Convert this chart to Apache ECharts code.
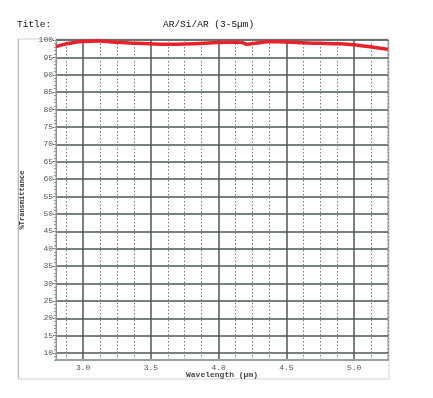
<!DOCTYPE html>
<html>
<head>
<meta charset="utf-8">
<style>
  html, body { margin: 0; padding: 0; background: #fff; }
  #chart { width: 433px; height: 398px; }
</style>
<script src="https://cdn.jsdelivr.net/npm/echarts@6/dist/echarts.min.js"></script>
</head>
<body>
<div id="chart"></div>
<script>
// 数据
const wavelength = [2.80, 2.88, 3.00, 3.12, 3.24, 3.37, 3.50, 3.62, 3.75, 3.87, 3.99, 4.11, 4.17, 4.21, 4.26, 4.31, 4.36, 4.44, 4.61, 4.75, 4.85, 4.97, 5.10, 5.25];
const transmittance = [98.1, 98.9, 99.6, 99.7, 99.35, 99.1, 98.9, 98.8, 98.85, 99.0, 99.3, 99.35, 99.25, 98.8, 99.0, 99.3, 99.5, 99.5, 99.2, 99.05, 98.95, 98.7, 98.1, 97.3];
const xMajorTicks = [3.0, 3.5, 4.0, 4.5, 5.0];
const xMinorTicks = [2.875, 3.125, 3.25, 3.375, 3.625, 3.75, 3.875, 4.125, 4.25, 4.375, 4.625, 4.75, 4.875, 5.125, 5.25];
const yTicks = [10, 15, 20, 25, 30, 35, 40, 45, 50, 55, 60, 65, 70, 75, 80, 85, 90, 95, 100];
const yMinorTicks = [];
for (let v = 8; v <= 100; v++) yMinorTicks.push(v);

const mono = '"Liberation Mono", "DejaVu Sans Mono", monospace';
const gridColor = '#4a5753';

const chart = echarts.init(document.getElementById('chart'));

const option = {
  animation: false,
  title: [
    { text: 'Title:', left: 12, top: 14, textStyle: { fontFamily: mono, fontSize: 9.5, fontWeight: 'normal', color: '#111' } },
    { text: 'AR/Si/AR (3-5μm)', left: 158, top: 14, textStyle: { fontFamily: mono, fontSize: 9.5, fontWeight: 'normal', color: '#111' } },
  ],
  graphic: [
    {
      type: 'rect',
      shape: { x: 18, y: 39, width: 371, height: 340 },
      style: { fill: 'none', stroke: '#d6d2c6', lineWidth: 1 },
      z: -1,
    },
    {
      type: 'line',
      shape: { x1: 18.5, y1: 39, x2: 18.5, y2: 379 },
      style: { stroke: '#b9bab2', lineWidth: 1 },
    },
  ],
  grid: {
    left: 56,
    right: 45,
    top: 40,
    bottom: 38,
    show: true,
    borderColor: '#8a9692',
    borderWidth: 1,
    backgroundColor: '#fff',
  },
  xAxis: [
    {
      type: 'value',
      min: 2.8,
      max: 5.25,
      name: 'Wavelength (μm)',
      nameLocation: 'middle',
      nameMoveOverlap: false,
      nameGap: 11,
      nameTextStyle: { fontFamily: mono, fontSize: 8, fontWeight: 'bold', color: '#444' },
      axisLine: { show: true, lineStyle: { color: '#9aa29f', width: 2 } },
      axisTick: { show: false, customValues: xMajorTicks },
      axisLabel: {
        customValues: xMajorTicks,
        fontFamily: mono,
        fontSize: 8,
        color: '#555',
        margin: 4,
        formatter: (v) => v.toFixed(1),
      },
      splitLine: { show: true, lineStyle: { color: gridColor, width: 1.5 } },
    },
    {
      type: 'value',
      min: 2.8,
      max: 5.25,
      position: 'top',
      axisLine: { show: false },
      axisTick: { show: false, customValues: xMinorTicks },
      axisLabel: { show: false, customValues: xMinorTicks },
      splitLine: { show: true, lineStyle: { color: '#7a7a7a', width: 1, type: [1.5, 2] } },
    },
  ],
  yAxis: [
    {
      type: 'value',
      min: 8,
      max: 100,
      name: '%Transmittance',
      nameLocation: 'middle',
      nameMoveOverlap: false,
      nameGap: 30,
      nameTextStyle: { fontFamily: mono, fontSize: 7, fontWeight: 'bold', color: '#333' },
      axisLine: { show: true, lineStyle: { color: '#8a9692' } },
      axisTick: { show: true, length: 3, customValues: yTicks, lineStyle: { color: '#666' } },
      axisLabel: {
        customValues: yTicks,
        fontFamily: mono,
        fontSize: 8,
        color: '#555',
        margin: 3,
      },
      splitLine: { show: true, lineStyle: { color: gridColor, width: 1.5 } },
    },
    {
      type: 'value',
      min: 8,
      max: 100,
      position: 'left',
      axisLine: { show: false },
      axisTick: { show: true, length: 2, customValues: yMinorTicks, lineStyle: { color: '#999' } },
      axisLabel: { show: false, customValues: yMinorTicks },
      splitLine: { show: false },
    },
  ],
  series: [
    {
      type: 'line',
      xAxisIndex: 0,
      yAxisIndex: 0,
      data: wavelength.map((w, i) => [w, transmittance[i]]),
      smooth: 0.4,
      symbol: 'none',
      clip: true,
      lineStyle: { color: '#e8222c', width: 3.5 },
      z: 5,
    },
  ],
};

chart.setOption(option);
</script>
</body>
</html>
